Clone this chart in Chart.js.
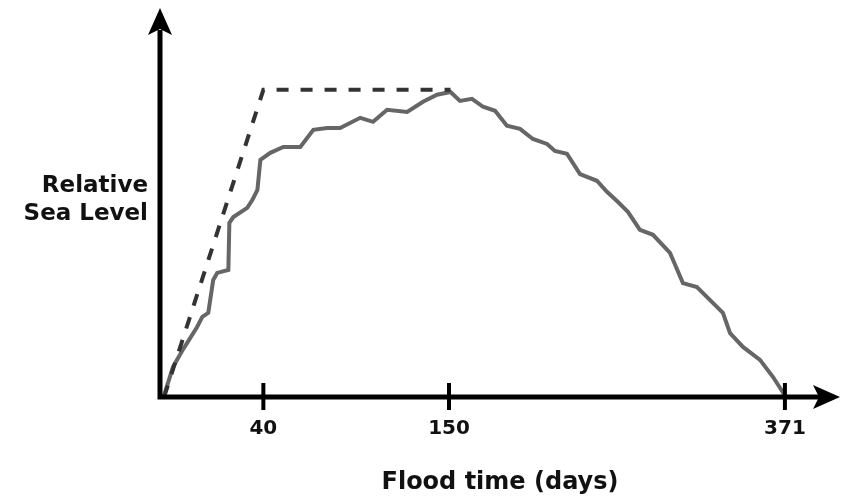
<!DOCTYPE html>
<html>
<head>
<meta charset="utf-8">
<title>Relative Sea Level - Flood time</title>
<script src="https://cdn.jsdelivr.net/npm/chart.js@4.4.1/dist/chart.umd.min.js"></script>
<style>
    html, body { margin: 0; padding: 0; background: #fff; }
    #wrap { width: 844px; height: 500px; position: relative; }
</style>
</head>
<body>
<div id="wrap"><canvas id="floodChart"></canvas></div>
<script>
// 1. DATA (days on x, relative sea level on y, plateau = 100)
const tickDays = [40, 150, 371];
const yLabel = ['Relative', 'Sea Level'];
const xLabel = 'Flood time (days)';

const idealDays  = [0, 40, 151];
const idealLevel = [0, 100, 100];

const floodDays  = [0, 3.6, 7.7, 9.3, 13.3, 15.4, 17.8, 19.8, 21.4, 25.9, 26.3, 27.9, 33.5, 35.6, 37.6, 38.8,
                    44.1, 51.8, 61.9, 69.6, 77.8, 85.5, 97.4, 105, 113.3, 125.2, 134.6, 142.9, 151,
                    157.2, 165.1, 172.4, 180.3, 188.1, 196.7, 205.2, 214.5, 219.7, 227.6, 236.2, 247.3,
                    253.9, 260.5, 267.7, 275.6, 284.2, 295.4, 297.4, 303.9, 313.1, 330.2, 334.9, 343.4,
                    354.6, 363.2, 371];
const floodLevel = [0.5, 9.8, 15.6, 17.6, 22.8, 26.1, 27.4, 38.1, 40.4, 41.4, 56.7, 58.6, 61.6, 64.2, 67.4, 77.2,
                    79.5, 81.4, 81.4, 87.0, 87.6, 87.6, 90.9, 89.6, 93.5, 92.8, 96.1, 98.4, 99.3,
                    96.4, 97.1, 94.5, 93.2, 88.3, 87.3, 84.0, 82.4, 80.1, 79.2, 72.6, 70.4,
                    66.8, 63.8, 60.3, 54.4, 52.8, 46.9, 44.6, 37.1, 35.8, 27.4, 20.8, 16.3,
                    12.1, 6.5, 0.5];

// 2. X SCALE: the drawing is not linear in days, so map by segments
const scaleDays  = [0, 40, 150, 371];
const scaleStops = [0.006, 0.152, 0.425, 0.919];

function dayToDecimal(d) {
    let i = 1;
    while (i < scaleDays.length - 1 && d > scaleDays[i]) i++;
    const d0 = scaleDays[i - 1], d1 = scaleDays[i];
    const f0 = scaleStops[i - 1], f1 = scaleStops[i];
    return f0 + (d - d0) * (f1 - f0) / (d1 - d0);
}
function decimalToDay(f) {
    let i = 1;
    while (i < scaleStops.length - 1 && f > scaleStops[i]) i++;
    const d0 = scaleDays[i - 1], d1 = scaleDays[i];
    const f0 = scaleStops[i - 1], f1 = scaleStops[i];
    return d0 + (f - f0) * (d1 - d0) / (f1 - f0);
}

class PiecewiseScale extends Chart.LinearScale {
    getPixelForValue(value) {
        return this.getPixelForDecimal(dayToDecimal(value));
    }
    getValueForPixel(pixel) {
        return decimalToDay(this.getDecimalForPixel(pixel));
    }
}
PiecewiseScale.id = 'piecewise';
PiecewiseScale.defaults = Chart.LinearScale.defaults;
Chart.register(PiecewiseScale);

// 3. AXES WITH ARROWS AND CROSSING TICKS
const axisArrows = {
    id: 'axisArrows',
    afterDatasetsDraw(chart) {
        const { ctx, chartArea, scales } = chart;
        const x0 = chartArea.left, y0 = chartArea.bottom;
        const top = chartArea.top, right = chartArea.right;
        ctx.save();
        ctx.strokeStyle = '#000';
        ctx.fillStyle = '#000';
        ctx.lineWidth = 5;
        ctx.lineJoin = 'miter';
        ctx.beginPath();
        ctx.moveTo(x0, top + 20);
        ctx.lineTo(x0, y0);
        ctx.lineTo(right - 20, y0);
        ctx.stroke();

        // up arrow
        ctx.beginPath();
        ctx.moveTo(x0, top - 2);
        ctx.lineTo(x0 + 12, top + 25);
        ctx.lineTo(x0, top + 19);
        ctx.lineTo(x0 - 12, top + 25);
        ctx.closePath();
        ctx.fill();

        // right arrow
        ctx.beginPath();
        ctx.moveTo(right, y0);
        ctx.lineTo(right - 27, y0 - 12);
        ctx.lineTo(right - 21, y0);
        ctx.lineTo(right - 27, y0 + 12);
        ctx.closePath();
        ctx.fill();

        ctx.lineWidth = 4;
        scales.x.ticks.forEach(t => {
            const px = scales.x.getPixelForValue(t.value);
            ctx.beginPath();
            ctx.moveTo(px, y0 - 14);
            ctx.lineTo(px, y0 + 13);
            ctx.stroke();
        });
        ctx.restore();
    }
};

// 4. CHART
Chart.defaults.font.family = "'DejaVu Sans', Verdana, sans-serif";
Chart.defaults.color = '#111';

const ctx = document.getElementById('floodChart');
new Chart(ctx, {
    type: 'line',
    data: {
        datasets: [{
            label: 'Ideal',
            data: idealDays.map((d, i) => ({ x: d, y: idealLevel[i] })),
            borderColor: '#333',
            borderWidth: 4,
            borderDash: [12, 12],
            pointRadius: 0,
            tension: 0,
            fill: false
        }, {
            label: 'Flood',
            data: floodDays.map((d, i) => ({ x: d, y: floodLevel[i] })),
            borderColor: '#666',
            borderWidth: 4,
            pointRadius: 0,
            tension: 0,
            fill: false
        }]
    },
    options: {
        responsive: true,
        maintainAspectRatio: false,
        animation: false,
        layout: { padding: { top: 10, right: 4, left: 0, bottom: 0 } },
        plugins: { legend: { display: false }, tooltip: { enabled: false } },
        scales: {
            x: {
                type: 'piecewise',
                min: 0,
                max: 400,
                border: { display: false },
                grid: { display: false, drawTicks: false },
                afterBuildTicks: s => { s.ticks = tickDays.map(v => ({ value: v })); },
                afterFit: s => { s.height = 103; s.paddingLeft = 0; s.paddingRight = 0; },
                ticks: {
                    autoSkip: false,
                    maxRotation: 0,
                    padding: 20,
                    font: { size: 20, weight: 'bold' },
                    callback: v => String(v)
                },
                title: {
                    display: true,
                    text: xLabel,
                    font: { size: 24, weight: 'bold' },
                    padding: { top: 0, bottom: 3 }
                }
            },
            y: {
                min: 0,
                max: 126,
                border: { display: false },
                grid: { display: false, drawTicks: false },
                afterBuildTicks: s => { s.ticks = [{ value: 64 }]; },
                afterFit: s => { s.width = 160; s.paddingTop = 0; s.paddingBottom = 0; },
                ticks: {
                    padding: 12,
                    font: { size: 23, weight: 'bold', lineHeight: 1.22 },
                    callback: () => yLabel
                }
            }
        }
    },
    plugins: [axisArrows]
});
</script>
</body>
</html>
